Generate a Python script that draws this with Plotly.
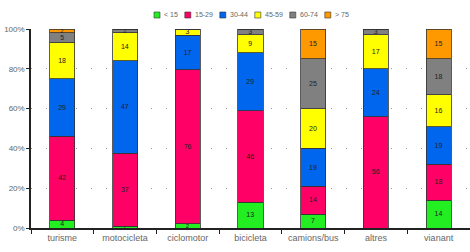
import plotly.graph_objects as go

categories = ["turisme", "motocicleta", "ciclomotor", "bicicleta", "camions/bus", "altres", "vianant"]
series_names = ["< 15", "15-29", "30-44", "45-59", "60-74", "> 75"]
colors = ["#22EE22", "#FF0066", "#0066EE", "#FFFF00", "#808080", "#FF9900"]

age_lt15 = [4, 1, 2, 13, 7, 0, 14]
age_15_29 = [42, 37, 76, 46, 14, 56, 18]
age_30_44 = [29, 47, 17, 29, 19, 24, 19]
age_45_59 = [18, 14, 3, 9, 20, 17, 16]
age_60_74 = [5, 2, 0, 3, 25, 3, 18]
age_gt75 = [2, 0, 0, 0, 15, 0, 15]

series_values = [age_lt15, age_15_29, age_30_44, age_45_59, age_60_74, age_gt75]
y_ticks = [0, 20, 40, 60, 80, 100]
y_tick_labels = [f"{v}%" for v in y_ticks]

W, H = 470, 252
ML, MR, MT, MB = 31, 0, 29, 24
PW = W - ML - MR
PH = H - MT - MB

fig = go.Figure()
for name, vals, col in zip(series_names, series_values, colors):
    fig.add_trace(go.Bar(
        x=categories, y=vals, name=name,
        marker=dict(color=col, line=dict(color="#333333", width=0.8)),
        text=[str(v) if v > 0 else "" for v in vals],
        texttemplate="%{text}",
        textposition="inside", insidetextanchor="middle", textangle=0,
        textfont=dict(size=[6 if v <= 2 else 8 for v in vals], color="#222222",
                      family="Liberation Sans"),
        showlegend=False,
        cliponaxis=False,
    ))

# compact legend built from the series names
def px_x(p):
    return (p - ML) / PW

def px_y(p):
    return 1 - (p - MT) / PH

x0 = 157
ly = 15
for name, col in zip(series_names, colors):
    fig.add_shape(type="rect", xref="paper", yref="paper",
                  x0=px_x(x0 - 3), x1=px_x(x0 + 3), y0=px_y(ly + 3), y1=px_y(ly - 3),
                  fillcolor=col, line=dict(color="#333333", width=0.6))
    fig.add_annotation(xref="paper", yref="paper", x=px_x(x0 + 5), y=px_y(ly),
                       text=name, showarrow=False, xanchor="left", yanchor="middle",
                       font=dict(size=7, color="#666666", family="Liberation Sans"))
    x0 += 14 + 4.2 * len(name)

fig.update_layout(
    width=W, height=H,
    margin=dict(l=ML, r=MR, t=MT, b=MB),
    barmode="stack", barnorm="percent",
    bargap=0.6,
    plot_bgcolor="white", paper_bgcolor="white",
    uniformtext=dict(minsize=6, mode="show"),
    font=dict(family="Liberation Sans", size=8, color="#444444"),
)
fig.update_xaxes(
    type="category", range=[-0.5, len(categories) - 0.5],
    showline=True, linecolor="#222222", linewidth=1.5,
    ticks="outside", tickson="boundaries", ticklen=4, tickcolor="#222222",
    tickfont=dict(size=9, color="#666666"), showgrid=False,
)
fig.update_yaxes(
    range=[0, 100], tickmode="array", tickvals=y_ticks, ticktext=y_tick_labels,
    showline=True, linecolor="#222222", linewidth=1.5,
    ticks="outside", ticklen=3, tickcolor="#222222",
    tickfont=dict(size=8, color="#666666"),
    showgrid=True, gridcolor="#999999", griddash="1px,14px", gridwidth=1,
    zeroline=False,
)

fig.write_html("out.html")
